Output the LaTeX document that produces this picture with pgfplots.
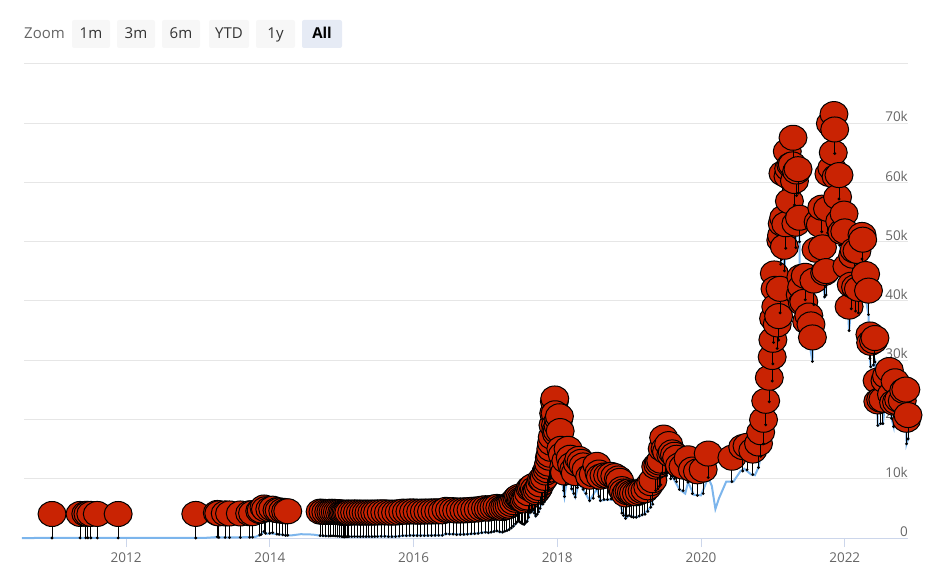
\documentclass[border=0pt]{standalone}
\usepackage{pgfplots}
\pgfplotsset{compat=1.18}
\usepackage{pgfplotstable}
\usepackage{fontspec}
\setmainfont{Open Sans}

\definecolor{lineblue}{HTML}{7CB5EC}
\definecolor{flagred}{HTML}{C92303}
\definecolor{gridgray}{HTML}{E6E6E6}
\definecolor{axisblue}{HTML}{CCD6EB}
\definecolor{labelgray}{HTML}{666666}
\definecolor{btnfill}{HTML}{F7F7F7}
\definecolor{btnsel}{HTML}{E6EBF5}

% circle pin flag: dot on the point, stem, circle 24pt above
\pgfdeclareplotmark{pin}{%
  \pgfsetlinewidth{1pt}%
  \pgfsetstrokecolor{black}%
  \pgfpathmoveto{\pgfpointorigin}%
  \pgfpathlineto{\pgfpoint{0pt}{12pt}}%
  \pgfusepath{stroke}%
  \pgfsetfillcolor{black}%
  \pgfpathcircle{\pgfpointorigin}{1.6pt}%
  \pgfusepath{fill}%
  \pgfsetfillcolor{flagred}%
  \pgfpathellipse{\pgfpoint{0pt}{24pt}}{\pgfpoint{14pt}{0pt}}{\pgfpoint{0pt}{12.5pt}}%
  \pgfusepath{fill,stroke}%
}

% price, USD (x = decimal year)
\pgfplotstableread{
x y
2010.55 0.1
2010.9 0.3
2011.2 0.9
2011.4 15
2011.44 28
2011.6 13
2011.8 3
2012.0 5
2012.4 5
2012.6 10
2012.9 12
2013.1 25
2013.25 140
2013.28 200
2013.31 90
2013.5 90
2013.8 180
2013.88 600
2013.92 1100
2013.96 700
2014.0 800
2014.1 650
2014.15 580
2014.22 450
2014.3 440
2014.43 640
2014.5 620
2014.6 580
2014.7 400
2014.8 340
2014.9 370
2015.0 250
2015.04 180
2015.1 230
2015.3 240
2015.5 250
2015.6 280
2015.7 230
2015.8 300
2015.85 400
2016.0 430
2016.2 420
2016.4 450
2016.45 700
2016.55 650
2016.7 610
2016.85 740
2017.0 980
2017.05 900
2017.15 1200
2017.22 950
2017.3 1250
2017.37 1800
2017.42 2400
2017.46 2900
2017.5 2500
2017.54 2300
2017.58 2800
2017.62 4300
2017.66 4700
2017.7 3700
2017.74 4400
2017.78 5800
2017.82 6100
2017.86 7400
2017.9 10000
2017.93 13000
2017.96 19000
2017.98 14000
2018.0 14000
2018.03 16500
2018.05 11000
2018.1 7000
2018.15 11000
2018.2 8300
2018.25 6900
2018.3 9300
2018.36 8200
2018.45 6300
2018.55 8300
2018.6 6300
2018.7 6500
2018.8 6400
2018.87 5600
2018.95 3300
2019.0 3800
2019.1 3500
2019.2 4000
2019.3 5200
2019.37 8000
2019.42 8700
2019.48 12900
2019.52 10500
2019.55 11800
2019.6 10400
2019.7 8200
2019.78 7500
2019.82 9400
2019.9 7300
2020.0 7200
2020.1 10200
2020.15 8800
2020.2 4900
2020.25 6700
2020.35 9500
2020.45 9500
2020.55 11300
2020.6 11700
2020.7 10700
2020.75 10600
2020.8 11900
2020.83 13800
2020.87 15900
2020.9 19100
2020.92 18800
2020.95 23000
2020.99 26500
2021.0 29400
2021.02 40600
2021.06 32000
2021.08 33400
2021.1 38000
2021.11 46200
2021.13 49000
2021.14 57500
2021.16 45100
2021.18 48900
2021.2 61200
2021.22 58300
2021.23 52800
2021.25 58900
2021.28 63500
2021.3 56200
2021.32 49000
2021.33 57800
2021.35 58200
2021.37 50000
2021.38 37000
2021.4 38300
2021.41 35600
2021.43 35800
2021.45 40200
2021.47 32500
2021.5 33500
2021.55 29800
2021.57 39400
2021.6 44600
2021.63 49300
2021.66 48800
2021.68 51700
2021.69 45000
2021.72 40700
2021.74 41000
2021.76 51500
2021.78 57400
2021.8 65900
2021.82 58400
2021.85 67500
2021.86 64900
2021.88 56900
2021.9 53500
2021.92 57200
2021.93 49400
2021.96 47600
2021.99 50700
2022.0 47700
2022.03 41800
2022.06 35000
2022.09 38700
2022.11 43600
2022.13 44500
2022.15 38300
2022.17 44400
2022.19 38000
2022.24 47100
2022.25 46300
2022.29 40500
2022.33 37700
2022.35 30300
2022.36 28900
2022.4 29200
2022.42 29700
2022.45 22500
2022.46 19000
2022.5 19300
2022.53 19300
2022.56 22500
2022.58 23300
2022.62 24300
2022.65 20200
2022.68 18800
2022.7 22400
2022.72 18900
2022.75 19300
2022.8 19100
2022.82 20800
2022.85 21000
2022.86 15900
2022.88 16700
2022.9 16900
}\price

% flags
\pgfplotstableread{
x y
2010.97 0.3
2011.36 10
2011.44 28
2011.47 20
2011.51 15
2011.60 13
2011.89 3
2012.97 13
2013.27 180
2013.29 100
2013.38 100
2013.44 90
2013.59 90
2013.72 120
2013.76 140
2013.86 500
2013.88 600
2013.92 1100
2013.94 800
2014.0 800
2014.04 900
2014.1 650
2014.13 600
2014.18 550
2014.22 450
2014.25 460
2014.70 400
2014.74 380
2014.78 340
2014.82 350
2014.85 370
2014.88 370
2014.91 350
2014.94 320
2014.97 300
2015.0 250
2015.02 200
2015.04 180
2015.06 220
2015.08 230
2015.1 230
2015.14 240
2015.18 260
2015.22 250
2015.26 230
2015.3 240
2015.34 235
2015.38 240
2015.42 230
2015.46 245
2015.5 260
2015.55 280
2015.6 280
2015.65 240
2015.7 230
2015.75 240
2015.8 300
2015.85 400
2015.9 380
2015.95 430
2016.0 430
2016.05 390
2016.1 400
2016.15 410
2016.2 420
2016.25 430
2016.3 450
2016.35 450
2016.4 450
2016.45 700
2016.5 660
2016.55 650
2016.6 580
2016.65 600
2016.7 610
2016.75 640
2016.8 700
2016.85 740
2016.9 780
2016.95 900
2017.0 980
2017.04 900
2017.08 1000
2017.12 1100
2017.16 1200
2017.2 1050
2017.24 1000
2017.27 1150
2017.3 1250
2017.33 1400
2017.36 1700
2017.39 2000
2017.42 2400
2017.44 2700
2017.46 2900
2017.48 2700
2017.5 2500
2017.52 2400
2017.54 2300
2017.56 2600
2017.58 2800
2017.6 3500
2017.62 4300
2017.64 4400
2017.66 4700
2017.68 4200
2017.7 3700
2017.72 4000
2017.74 4400
2017.76 5000
2017.78 5800
2017.8 5700
2017.82 6100
2017.84 7000
2017.86 7400
2017.87 8000
2017.88 8500
2017.89 9500
2017.9 10000
2017.91 11000
2017.92 12000
2017.93 13000
2017.94 15000
2017.95 17000
2017.96 19000
2017.965 19500
2017.97 17000
2017.975 15000
2017.98 14000
2017.99 13500
2018.0 14000
2018.01 15000
2018.02 16000
2018.03 16500
2018.04 14000
2018.05 11000
2018.07 10000
2018.09 8000
2018.1 7000
2018.12 9000
2018.15 11000
2018.18 9500
2018.2 8300
2018.23 7500
2018.25 6900
2018.28 8500
2018.3 9300
2018.33 8800
2018.36 8200
2018.4 7500
2018.45 6300
2018.5 6700
2018.55 8300
2018.58 7000
2018.6 6300
2018.65 6500
2018.7 6500
2018.75 6600
2018.8 6400
2018.85 6000
2018.87 5600
2018.9 4200
2018.92 3800
2018.95 3300
2018.97 3700
2019.0 3800
2019.03 3600
2019.06 3500
2019.1 3500
2019.14 3700
2019.18 3900
2019.22 4000
2019.26 4500
2019.3 5200
2019.33 5700
2019.37 8000
2019.4 8300
2019.42 8700
2019.44 9000
2019.46 11000
2019.48 12900
2019.5 11000
2019.52 10500
2019.55 11800
2019.58 10000
2019.6 10400
2019.63 10000
2019.66 9500
2019.7 8200
2019.75 8000
2019.82 9400
2019.88 7500
2019.95 7200
2020.03 7500
2020.1 10200
2020.43 9500
2020.58 11300
2020.64 11500
2020.72 10700
2020.8 11900
2020.83 13800
2020.87 15900
2020.9 19100
2020.95 23000
2020.99 26500
2021.0 29400
2021.01 33000
2021.02 40600
2021.03 38000
2021.04 35000
2021.06 32000
2021.08 33400
2021.1 38000
2021.11 46200
2021.12 47000
2021.13 49000
2021.14 57500
2021.15 50000
2021.16 45100
2021.18 48900
2021.2 61200
2021.21 57000
2021.22 58300
2021.23 52800
2021.25 58900
2021.27 59000
2021.28 63500
2021.3 56200
2021.32 49000
2021.33 57800
2021.35 58200
2021.37 50000
2021.38 37000
2021.39 40000
2021.4 38300
2021.41 35600
2021.43 35800
2021.45 40200
2021.47 32500
2021.5 33500
2021.53 32000
2021.55 29800
2021.57 39400
2021.6 44600
2021.63 49300
2021.66 48800
2021.68 51700
2021.69 45000
2021.72 40700
2021.74 41000
2021.76 51500
2021.78 57400
2021.8 65900
2021.82 58400
2021.84 61000
2021.85 67500
2021.86 64900
2021.88 56900
2021.9 53500
2021.92 57200
2021.93 49400
2021.96 47600
2021.99 50700
2022.0 47700
2022.03 41800
2022.06 35000
2022.09 38700
2022.11 43600
2022.13 44500
2022.15 38300
2022.17 44400
2022.19 38000
2022.24 47100
2022.25 46300
2022.29 40500
2022.33 37700
2022.35 30300
2022.36 28900
2022.4 29200
2022.42 29700
2022.45 22500
2022.46 19000
2022.5 19300
2022.53 19300
2022.56 22500
2022.58 23300
2022.62 24300
2022.65 20200
2022.68 18800
2022.7 22400
2022.72 18900
2022.75 19300
2022.8 19100
2022.82 20800
2022.85 21000
2022.86 15900
2022.88 16700
}\flags

\begin{document}
\begin{tikzpicture}[x=1pt,y=1pt]
\useasboundingbox (0,0) rectangle (935,587);
\begin{axis}[
  at={(24pt,49pt)}, anchor=south west,
  scale only axis, width=884pt, height=474pt,
  xmin=2010.58, xmax=2022.88,
  ymin=0, ymax=80000,
  clip=false,
  axis x line*=bottom,
  axis y line*=right,
  x axis line style={draw=axisblue, line width=1pt, -},
  y axis line style={draw=none},
  xtick={2012,2014,...,2022},
  xticklabels={2012,2014,2016,2018,2020,2022},
  xtick align=outside,
  xtick style={draw=axisblue, line width=1pt},
  major tick length=9pt,
  ytick={0,10000,...,80000},
  yticklabels={0,10k,20k,30k,40k,50k,60k,70k,{}},
  scaled y ticks=false,
  ytick style={draw=none},
  ymajorgrids,
  grid style={draw=gridgray, line width=1pt},
  /pgf/number format/assume math mode=true,
  tick label style={font=\fontsize{13.5}{16}\selectfont, text=labelgray},
  yticklabel pos=right,
  yticklabel style={anchor=south east, inner sep=0pt, xshift=0pt, yshift=1pt},
  xticklabel style={anchor=north, inner sep=0pt, yshift=-6pt},
]
\addplot[lineblue, line width=2pt] table {\price};
\addplot[only marks, mark=pin] table {\flags};
\end{axis}

% range selector
\node[anchor=base west, text=labelgray, font=\fontsize{15}{18}\selectfont, inner sep=0pt] at (24,548) {Zoom};
\foreach \a/\b/\t in {72/110/1m, 117/155/3m, 162/200/6m, 209/249/YTD, 256/295/1y}{
  \fill[btnfill, rounded corners=2pt] (\a,539) rectangle (\b,567);
  \node[anchor=base, text=black!80, font=\fontsize{15}{18}\selectfont, inner sep=0pt] at ({(\a+\b)/2},548) {\t};
}
\fill[btnsel, rounded corners=2pt] (302,539) rectangle (342,567);
\node[anchor=base, text=black, font=\fontsize{15}{18}\selectfont\bfseries, inner sep=0pt] at (322,548) {All};
\end{tikzpicture}
\end{document}
